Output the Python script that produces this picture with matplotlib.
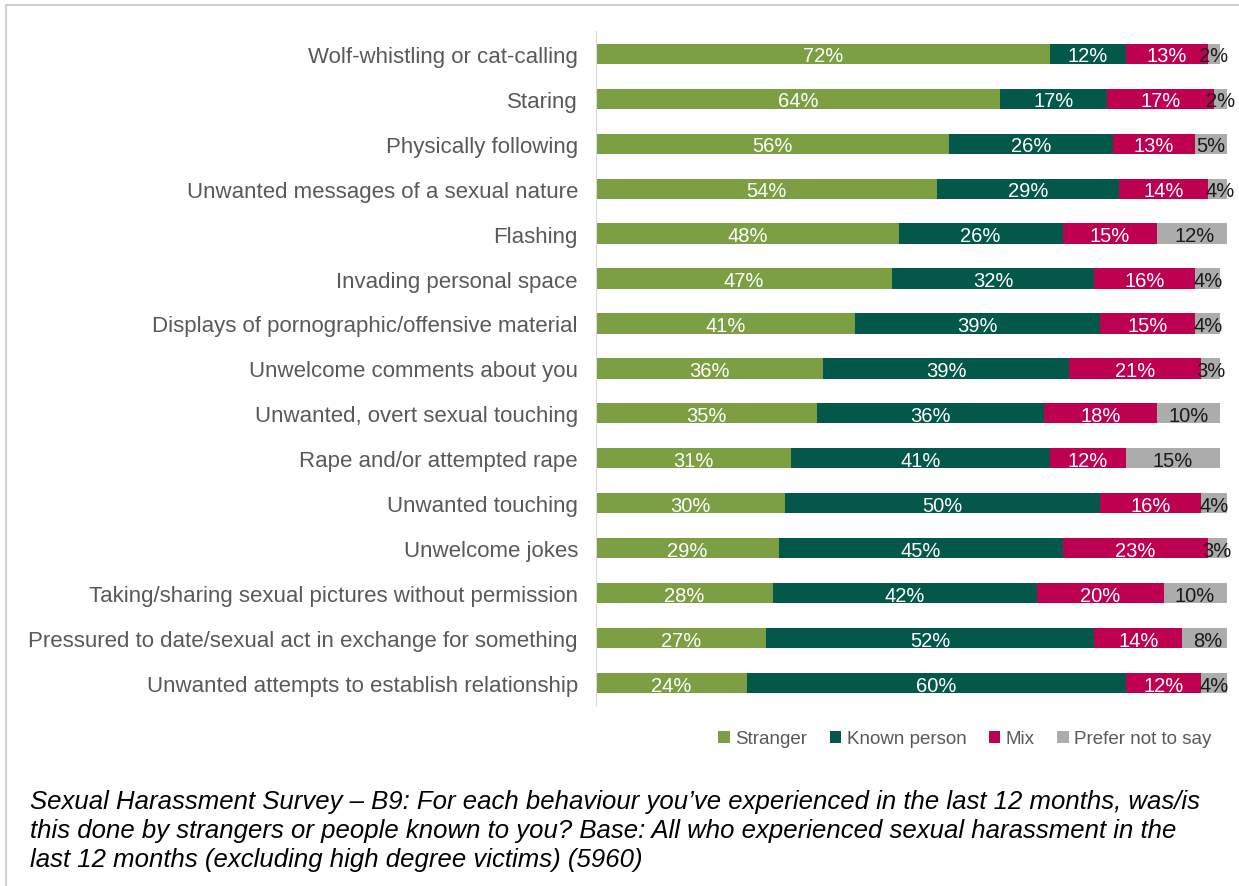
import matplotlib.pyplot as plt
from matplotlib.lines import Line2D

plt.rcParams['font.family'] = ['Liberation Sans', 'DejaVu Sans']

behaviours = [
    "Wolf-whistling or cat-calling",
    "Staring",
    "Physically following",
    "Unwanted messages of a sexual nature",
    "Flashing",
    "Invading personal space",
    "Displays of pornographic/offensive material",
    "Unwelcome comments about you",
    "Unwanted, overt sexual touching",
    "Rape and/or attempted rape",
    "Unwanted touching",
    "Unwelcome jokes",
    "Taking/sharing sexual pictures without permission",
    "Pressured to date/sexual act in exchange for something",
    "Unwanted attempts to establish relationship",
]
stranger = [72, 64, 56, 54, 48, 47, 41, 36, 35, 31, 30, 29, 28, 27, 24]
known = [12, 17, 26, 29, 26, 32, 39, 39, 36, 41, 50, 45, 42, 52, 60]
mix = [13, 17, 13, 14, 15, 16, 15, 21, 18, 12, 16, 23, 20, 14, 12]
prefer_not = [2, 2, 5, 4, 12, 4, 4, 3, 10, 15, 4, 3, 10, 8, 4]

series = [
    ("Stranger", stranger, "#7b9f42", "white"),
    ("Known person", known, "#03584a", "white"),
    ("Mix", mix, "#bd0050", "white"),
    ("Prefer not to say", prefer_not, "#acacac", "#1a1a1a"),
]

fig = plt.figure(figsize=(12.39, 8.87), dpi=100)
ax = fig.add_axes([0.481, 0.2035, 0.509, 0.760])

y = list(range(len(behaviours)))
left = [0] * len(behaviours)
for name, vals, color, txt_color in series:
    bars = ax.barh(y, vals, left=left, height=0.45, color=color, label=name)
    for b, v in zip(bars, vals):
        ax.text(b.get_x() + b.get_width() / 2, b.get_y() + b.get_height() / 2,
                f"{v}%", ha='center', va='center_baseline', color=txt_color, fontsize=14.5)
    left = [l + v for l, v in zip(left, vals)]

ax.set_xlim(0, 100)
ax.set_ylim(len(behaviours) - 0.5, -0.5)
ax.set_yticks(y)
ax.set_yticklabels(behaviours, fontsize=16, color="#595959")
ax.tick_params(axis='y', length=0, pad=13)
for lbl in ax.get_yticklabels():
    lbl.set_verticalalignment('center_baseline')
ax.set_xticks([])
for side in ['top', 'right', 'bottom']:
    ax.spines[side].set_visible(False)
ax.spines['left'].set_color("#d9d9d9")

handles, labels = ax.get_legend_handles_labels()
fig.legend(handles, labels, loc='center', bbox_to_anchor=(965 / 1239, 1 - 740 / 887),
           ncol=4, frameon=False, fontsize=13.5, labelcolor="#595959",
           handlelength=0.6, handleheight=0.6, handletextpad=0.3, columnspacing=1.2)

caption = ("Sexual Harassment Survey \u2013 B9: For each behaviour you\u2019ve experienced in the last 12 months, was/is\n"
           "this done by strangers or people known to you? Base: All who experienced sexual harassment in the\n"
           "last 12 months (excluding high degree victims) (5960)")
fig.text(30 / 1239, 1 - 790 / 887, caption, ha='left', va='top', fontsize=18.5,
         style='italic', color='black', linespacing=1.27)

# thin frame along top and left edges
fig.add_artist(Line2D([6 / 1239, 6 / 1239], [0, 1 - 6 / 887], transform=fig.transFigure,
                      color="#d0d0d0", lw=1.5))
fig.add_artist(Line2D([6 / 1239, 1], [1 - 6 / 887, 1 - 6 / 887], transform=fig.transFigure,
                      color="#d0d0d0", lw=1.5))

fig.savefig("out.png", dpi=100)
